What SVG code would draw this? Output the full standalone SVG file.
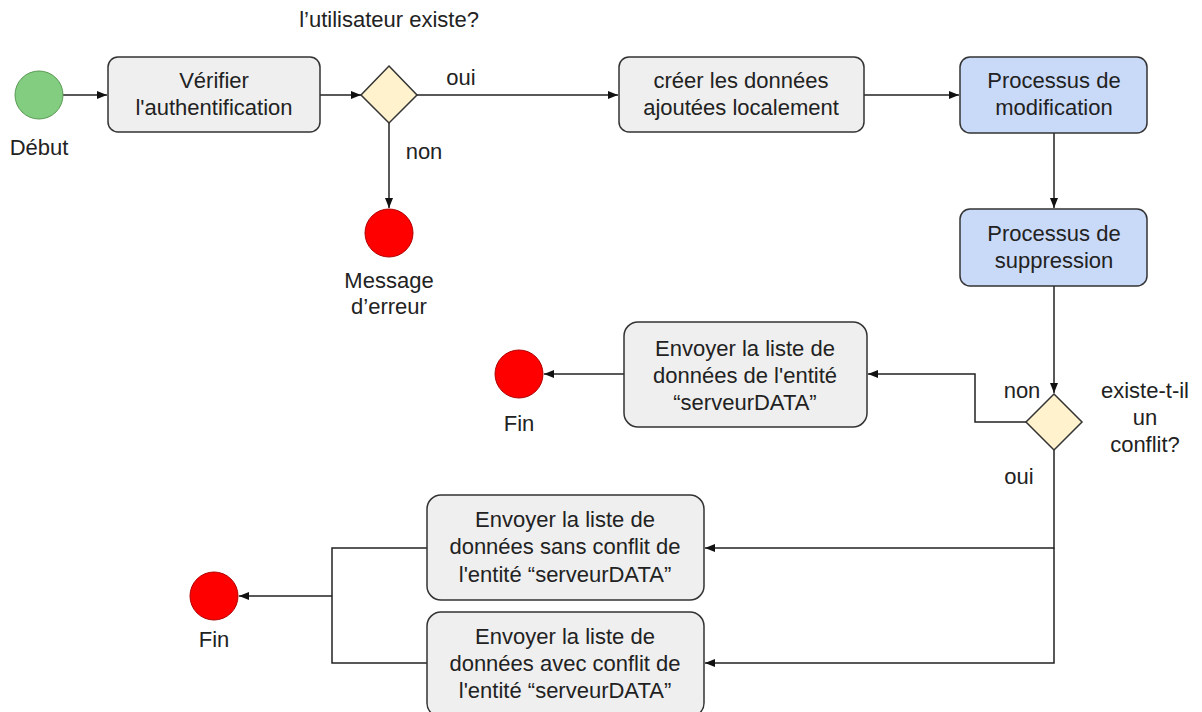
<svg xmlns="http://www.w3.org/2000/svg" width="1202" height="712" viewBox="0 0 1202 712">
<style>
text{font-family:"Liberation Sans",Arial,sans-serif;font-size:22px;fill:#222;text-anchor:middle}
.box{fill:#efefef;stroke:#333;stroke-width:1.5}
.blue{fill:#c9daf8;stroke:#333;stroke-width:1.5}
.dia{fill:#fff2cc;stroke:#333;stroke-width:1.5}
.end{fill:#ff0000;stroke:#b00000;stroke-width:1}
.start{fill:#82cd7f;stroke:#5a9a55;stroke-width:1}
.c{fill:none;stroke:#222;stroke-width:1.5}
</style>
<defs>
<marker id="a" viewBox="0 0 10 10" refX="10" refY="5" markerWidth="10" markerHeight="10" markerUnits="userSpaceOnUse" orient="auto">
<path d="M0,1 L10,5 L0,9 Z" fill="#111"/>
</marker>
</defs>
<g id="connectors">
<path class="c" d="M63,95 H107" marker-end="url(#a)"/>
<path class="c" d="M320,95 H361" marker-end="url(#a)"/>
<path class="c" d="M417,95 H618" marker-end="url(#a)"/>
<path class="c" d="M389,123 V208" marker-end="url(#a)"/>
<path class="c" d="M864,95 H959" marker-end="url(#a)"/>
<path class="c" d="M1054,133 V208" marker-end="url(#a)"/>
<path class="c" d="M1054,286 V393" marker-end="url(#a)"/>
<path class="c" d="M1027,422 H975 V374 H868" marker-end="url(#a)"/>
<path class="c" d="M624,374 H544" marker-end="url(#a)"/>
<path class="c" d="M1054,450 V548 H705" marker-end="url(#a)"/>
<path class="c" d="M1054,548 V663 H705" marker-end="url(#a)"/>
<path class="c" d="M427,548 H332 V663 H427"/>
<path class="c" d="M332,596 H239" marker-end="url(#a)"/>
<text x="461" y="85">oui</text>
<text x="424" y="159">non</text>
<text x="1022" y="398">non</text>
<text x="1019" y="484">oui</text>
</g>
<g id="debut">
<circle class="start" cx="39" cy="95" r="24"/>
<text x="39" y="155">Début</text>
</g>
<g id="verifier">
<rect class="box" x="108" y="57" width="212" height="75" rx="10"/>
<text x="214" y="88">Vérifier</text>
<text x="214" y="115">l'authentification</text>
</g>
<g id="decision1">
<path class="dia" d="M389,66 L417,95 L389,123 L361,95 Z"/>
<text x="389" y="27">l’utilisateur existe?</text>
</g>
<g id="erreur">
<circle class="end" cx="389" cy="233" r="24"/>
<text x="389" y="288">Message</text>
<text x="389" y="314">d’erreur</text>
</g>
<g id="creer">
<rect class="box" x="619" y="57" width="245" height="75" rx="10"/>
<text x="741" y="88">créer les données</text>
<text x="741" y="115">ajoutées localement</text>
</g>
<g id="modification">
<rect class="blue" x="960" y="57" width="187" height="76" rx="10"/>
<text x="1054" y="88">Processus de</text>
<text x="1054" y="115">modification</text>
</g>
<g id="suppression">
<rect class="blue" x="960" y="209" width="187" height="77" rx="10"/>
<text x="1054" y="241">Processus de</text>
<text x="1054" y="268">suppression</text>
</g>
<g id="decision2">
<path class="dia" d="M1054,394 L1082,422 L1054,450 L1026,422 Z"/>
<text x="1145" y="398">existe-t-il</text>
<text x="1145" y="425">un</text>
<text x="1145" y="452">conflit?</text>
</g>
<g id="envoyer1">
<rect class="box" x="624" y="322" width="243" height="105" rx="14"/>
<text x="745" y="356">Envoyer la liste de</text>
<text x="745" y="383">données de l'entité</text>
<text x="745" y="410">“serveurDATA”</text>
</g>
<g id="fin1">
<circle class="end" cx="519" cy="374" r="24"/>
<text x="519" y="431">Fin</text>
</g>
<g id="envoyer2">
<rect class="box" x="427" y="495" width="277" height="105" rx="14"/>
<text x="565" y="527">Envoyer la liste de</text>
<text x="565" y="554">données sans conflit de</text>
<text x="565" y="582">l'entité “serveurDATA”</text>
</g>
<g id="envoyer3">
<rect class="box" x="427" y="612" width="277" height="105" rx="14"/>
<text x="565" y="644">Envoyer la liste de</text>
<text x="565" y="671">données avec conflit de</text>
<text x="565" y="698">l'entité “serveurDATA”</text>
</g>
<g id="fin2">
<circle class="end" cx="214" cy="596" r="24"/>
<text x="214" y="647">Fin</text>
</g>
</svg>
